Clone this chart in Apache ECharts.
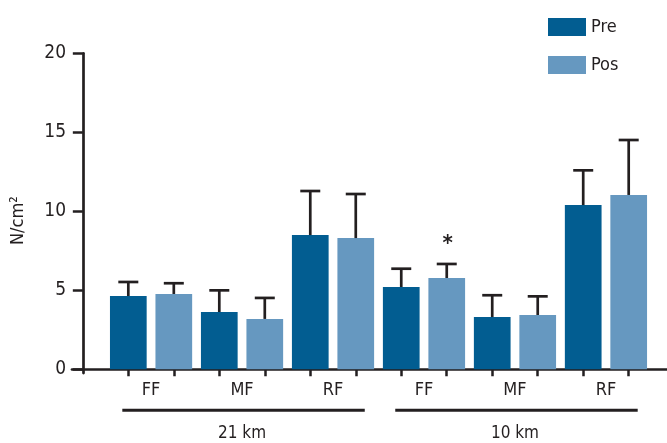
<!DOCTYPE html>
<html>
<head>
<meta charset="utf-8">
<script src="https://cdn.jsdelivr.net/npm/echarts@6/dist/echarts.min.js"></script>
<style>
  html, body { margin: 0; padding: 0; background: #fff; }
  #chart { width: 667px; height: 443px; }
</style>
</head>
<body>
<div id="chart"></div>
<script>
// Foot regions and race distances
const categories = ['FF', 'MF', 'RF'];
const distances = ['21 km', '10 km'];

// Mean plantar pressure (N/cm²) and standard deviation, per distance then region
const preMean = [4.63, 3.62, 8.49, 5.20, 3.30, 10.39];
const preSD   = [0.89, 1.37, 2.79, 1.16, 1.38, 2.20];
const posMean = [4.76, 3.18, 8.30, 5.77, 3.43, 11.03];
const posSD   = [0.68, 1.33, 2.79, 0.89, 1.18, 3.48];
const posSignificant = [false, false, false, true, false, false];

const yTicks = [0, 5, 10, 15, 20];

const INK = '#231f20';
const PRE_COLOR = '#025d91';
const POS_COLOR = '#6698c0';
const FONT = "'DejaVu Sans Condensed', 'Liberation Sans Narrow', sans-serif";

// Each bar gets its own slot on a numeric x axis: Pre at odd, Pos at even slots
const preSlot = i => 2 * i + 1;
const posSlot = i => 2 * i + 2;
const nPairs = preMean.length;

const preData = preMean.map((v, i) => [preSlot(i), v]);
const posData = posMean.map((v, i) => [posSlot(i), v]);
const errData = [];
for (let i = 0; i < nPairs; i++) {
  errData.push([preSlot(i), preMean[i], preSD[i], 0]);
  errData.push([posSlot(i), posMean[i], posSD[i], posSignificant[i] ? 1 : 0]);
}
const tickSlots = [];
const labelSlots = [];
for (let i = 0; i < nPairs; i++) {
  tickSlots.push(preSlot(i), posSlot(i));
  labelSlots.push((preSlot(i) + posSlot(i)) / 2);
}
// one underline + caption per distance
const perGroup = categories.length;
const groupData = distances.map((d, g) => [
  preSlot(g * perGroup), posSlot(g * perGroup + perGroup - 1), g
]);

const chart = echarts.init(document.getElementById('chart'), null, { renderer: 'canvas' });

chart.setOption({
  animation: false,
  backgroundColor: '#ffffff',
  textStyle: { fontFamily: FONT },
  grid: { left: 72, right: 0, top: 53.3, bottom: 69.9, containLabel: false, outerBoundsMode: 'none' },
  legend: {
    data: ['Pre', 'Pos'],
    orient: 'vertical',
    left: 543,
    top: 13,
    icon: 'rect',
    itemWidth: 38,
    itemHeight: 18,
    itemGap: 20,
    textStyle: { fontFamily: FONT, fontSize: 18, color: INK, lineHeight: 18, padding: [0, 0, 0, 0] }
  },
  xAxis: {
    type: 'value',
    min: -0.238,
    max: 12.842,
    splitLine: { show: false },
    axisLine: { onZero: true, lineStyle: { color: INK, width: 2.7 } },
    axisTick: { show: true, length: 7, customValues: tickSlots, lineStyle: { color: INK, width: 2.5 } },
    axisLabel: {
      customValues: labelSlots,
      margin: 8,
      fontFamily: FONT,
      fontSize: 18,
      color: INK,
      formatter: v => categories[Math.round((v - 1.5) / 2) % perGroup]
    }
  },
  yAxis: {
    type: 'value',
    min: -0.25,
    max: 20,
    name: 'N/cm²',
    nameLocation: 'middle',
    nameGap: 45,
    nameTextStyle: { fontFamily: FONT, fontSize: 18, color: INK, padding: [0, 15, 0, 0] },
    splitLine: { show: false },
    axisLine: { onZero: true, lineStyle: { color: INK, width: 2.7 } },
    axisTick: { show: true, length: 10, customValues: yTicks, lineStyle: { color: INK, width: 2.5 } },
    axisLabel: { customValues: yTicks, margin: 6, fontFamily: FONT, fontSize: 19, color: INK }
  },
  series: [
    {
      name: 'Pre', type: 'bar', data: preData, barWidth: 36.7,
      itemStyle: { color: PRE_COLOR }, z: 2
    },
    {
      name: 'Pos', type: 'bar', data: posData, barWidth: 36.7, barGap: '-100%',
      itemStyle: { color: POS_COLOR }, z: 2
    },
    {
      // upper standard-deviation whiskers, with a star over significant changes
      type: 'custom',
      data: errData,
      encode: { x: 0, y: 1 },
      z: 3,
      silent: true,
      renderItem: (params, api) => {
        const x = api.value(0), m = api.value(1), sd = api.value(2), sig = api.value(3);
        const base = api.coord([x, m]);
        const top = api.coord([x, m + sd]);
        const style = { stroke: INK, lineWidth: 2.7 };
        const children = [
          { type: 'line', shape: { x1: top[0], y1: base[1], x2: top[0], y2: top[1] }, style },
          { type: 'line', shape: { x1: top[0] - 10, y1: top[1], x2: top[0] + 10, y2: top[1] }, style }
        ];
        if (sig) {
          children.push({
            type: 'text',
            style: {
              text: '*', x: top[0] + 1, y: top[1] - 20,
              fill: INK, font: 'bold 22px ' + FONT, align: 'center', verticalAlign: 'middle'
            }
          });
        }
        return { type: 'group', children };
      }
    },
    {
      // distance underlines and captions beneath the region labels
      type: 'custom',
      data: groupData,
      encode: { x: [0, 1] },
      z: 3,
      silent: true,
      clip: false,
      renderItem: (params, api) => {
        const a = api.coord([api.value(0), 0]);
        const b = api.coord([api.value(1), 0]);
        const x1 = a[0] - 6, x2 = b[0] + 9;
        const y = a[1] + 41;
        return {
          type: 'group',
          children: [
            { type: 'line', shape: { x1, y1: y, x2, y2: y }, style: { stroke: INK, lineWidth: 3 } },
            {
              type: 'text',
              style: {
                text: distances[api.value(2)], x: (a[0] + b[0]) / 2, y: y + 23,
                fill: INK, font: '17px ' + FONT, align: 'center', verticalAlign: 'middle'
              }
            }
          ]
        };
      }
    }
  ]
});
</script>
</body>
</html>
